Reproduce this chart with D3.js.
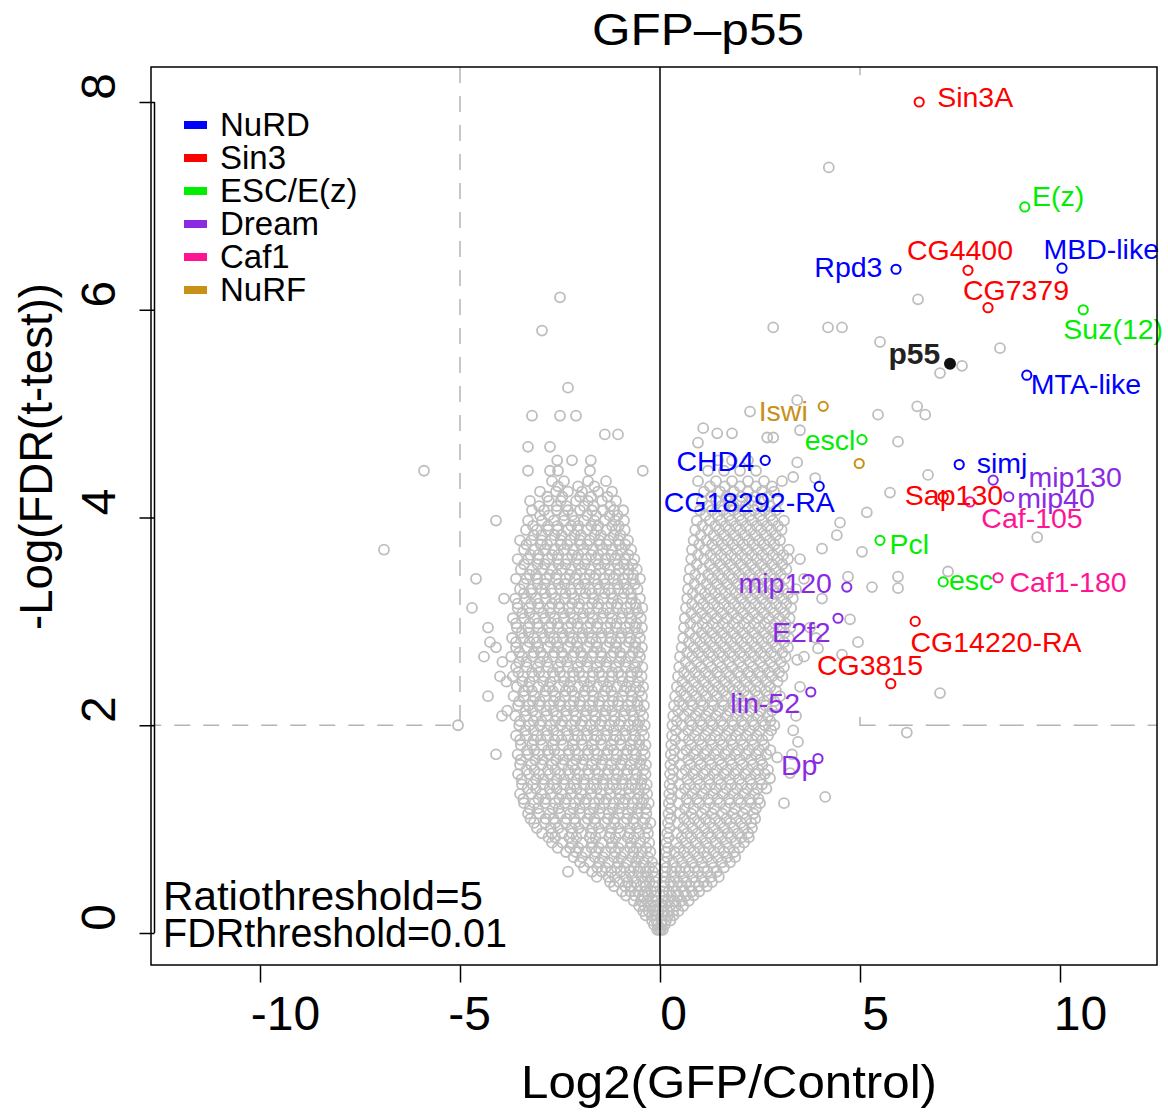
<!DOCTYPE html>
<html lang="en">
<head>
<meta charset="utf-8">
<title>GFP-p55 volcano plot</title>
<script src="https://d3js.org/d3.v7.min.js"></script>
<style>
  body { margin: 0; background: #fff; }
  text { font-family: "Liberation Sans", Arial, sans-serif; }
</style>
</head>
<body>
<script>
// ---- data ----
var xTicks = [-10, -5, 0, 5, 10];
var yTicks = [0, 2, 4, 6, 8];
var ratioThreshold = 5, fdrThreshold = 2;   // -log(0.01)

var groups = ["NuRD", "Sin3", "ESC/E(z)", "Dream", "Caf1", "NuRF"];

// labelled proteins
var geneNames = ["Sin3A", "E(z)", "MBD-like", "Rpd3", "CG4400", "CG7379", "Suz(12)", "MTA-like",
  "Iswi", "escl", "", "CHD4", "CG18292-RA", "simj", "mip130", "Sap130", "Caf-105", "mip40",
  "Pcl", "esc", "Caf1-180", "mip120", "E2f2", "CG14220-RA", "CG3815", "lin-52", "Dp"];
var geneX = [6.48, 9.12, 10.05, 5.9, 7.7, 8.2, 10.58, 9.17, 4.08, 5.05, 4.98, 2.63, 3.98, 7.48,
  8.33, 7.08, 7.75, 8.72, 5.5, 7.08, 8.45, 4.67, 4.45, 6.38, 5.77, 3.77, 3.95];
var geneY = [8.0, 6.99, 6.4, 6.39, 6.38, 6.02, 6.0, 5.37, 5.07, 4.75, 4.52, 4.55, 4.3, 4.51,
  4.36, 4.2, 4.15, 4.2, 3.78, 3.38, 3.42, 3.33, 3.03, 3.0, 2.4, 2.32, 1.68];
var geneGroup = ["Sin3", "ESC/E(z)", "NuRD", "NuRD", "Sin3", "Sin3", "ESC/E(z)", "NuRD",
  "NuRF", "ESC/E(z)", "NuRF", "NuRD", "NuRD", "NuRD", "Dream", "Sin3", "Caf1", "Dream",
  "ESC/E(z)", "ESC/E(z)", "Caf1", "Dream", "Dream", "Sin3", "Sin3", "Dream", "Dream"];
// label centres, data units
var labelX = [7.88, 9.95, 11.03, 4.71, 7.5, 8.9, 11.33, 10.65, 3.08, 4.25, 0, 1.38, 2.23, 8.55,
  10.38, 7.35, 9.3, 9.9, 6.23, 7.78, 10.2, 3.13, 3.53, 8.4, 5.25, 2.63, 3.48];
var labelY = [8.05, 7.1, 6.59, 6.41, 6.58, 6.19, 5.82, 5.29, 5.03, 4.75, 0, 4.55, 4.15, 4.53,
  4.39, 4.22, 4.0, 4.19, 3.75, 3.4, 3.38, 3.37, 2.9, 2.8, 2.58, 2.22, 1.62];

// bait
var baitName = "p55", baitX = 7.25, baitY = 5.48, baitLabelX = 6.36, baitLabelY = 5.58;

// background proteins, rows of [y, x values]
var cloudLeft = [
  [0.03, [-0.07, -0.02]],
  [0.12, [-0.2, -0.09]],
  [0.21, [-0.42, -0.28, -0.14, -0.05]],
  [0.31, [-0.66, -0.48, -0.32, -0.18, -0.07]],
  [0.40, [-0.95, -0.74, -0.55, -0.38, -0.22, -0.09]],
  [0.49, [-1.25, -1.02, -0.8, -0.6, -0.42, -0.26, -0.11]],
  [0.59, [-2.3, -1.7, -1.45, -1.22, -0.98, -0.75, -0.55, -0.36, -0.18]],
  [0.68, [-2.0, -1.76, -1.52, -1.28, -1.05, -0.82, -0.6, -0.4, -0.2]],
  [0.78, [-2.35, -2.1, -1.86, -1.6, -1.36, -1.12, -0.88, -0.66, -0.45, -0.24]],
  [0.87, [-2.7, -2.44, -2.2, -1.95, -1.7, -1.45, -1.2, -0.96, -0.72, -0.5, -0.27]],
  [0.96, [-2.95, -2.7, -2.45, -2.2, -1.96, -1.72, -1.48, -1.24, -1.0, -0.76, -0.52, -0.3]],
  [1.06, [-3.15, -2.88, -2.62, -2.36, -2.12, -1.88, -1.62, -1.38, -1.14, -0.9, -0.66, -0.42, -0.24]],
  [1.15, [-3.3, -3.02, -2.76, -2.5, -2.25, -2.0, -1.76, -1.52, -1.28, -1.04, -0.8, -0.56, -0.34]],
  [1.25, [-3.4, -3.14, -2.88, -2.62, -2.38, -2.13, -1.88, -1.64, -1.4, -1.16, -0.92, -0.68, -0.45, -0.28]],
  [1.34, [-3.5, -3.22, -2.96, -2.72, -2.46, -2.22, -1.97, -1.72, -1.48, -1.24, -1.0, -0.76, -0.52, -0.32]],
  [1.43, [-3.45, -3.18, -2.92, -2.66, -2.4, -2.15, -1.9, -1.66, -1.42, -1.18, -0.94, -0.7, -0.48, -0.33]],
  [1.53, [-3.55, -3.28, -3.02, -2.76, -2.5, -2.26, -2.02, -1.78, -1.54, -1.3, -1.06, -0.82, -0.58, -0.36]],
  [1.62, [-3.5, -3.22, -2.96, -2.7, -2.44, -2.18, -1.94, -1.7, -1.46, -1.22, -0.98, -0.74, -0.5, -0.35]],
  [1.72, [-4.1, -3.56, -3.3, -3.04, -2.78, -2.52, -2.28, -2.04, -1.8, -1.56, -1.32, -1.08, -0.84, -0.6, -0.38]],
  [1.81, [-3.48, -3.2, -2.94, -2.68, -2.42, -2.18, -1.94, -1.7, -1.46, -1.22, -0.98, -0.74, -0.52, -0.36]],
  [1.90, [-3.6, -3.34, -3.08, -2.82, -2.56, -2.3, -2.06, -1.82, -1.58, -1.34, -1.1, -0.86, -0.62, -0.4]],
  [2.00, [-5.05, -3.52, -3.26, -3.0, -2.74, -2.48, -2.22, -1.98, -1.74, -1.5, -1.26, -1.02, -0.78, -0.56, -0.38]],
  [2.09, [-3.95, -3.62, -3.36, -3.1, -2.84, -2.58, -2.34, -2.1, -1.86, -1.62, -1.38, -1.14, -0.9, -0.66, -0.42]],
  [2.19, [-3.55, -3.28, -3.02, -2.76, -2.5, -2.25, -2.0, -1.76, -1.52, -1.28, -1.04, -0.8, -0.56, -0.4]],
  [2.28, [-4.3, -3.66, -3.4, -3.14, -2.88, -2.62, -2.38, -2.14, -1.9, -1.66, -1.42, -1.18, -0.94, -0.7, -0.45]],
  [2.37, [-3.58, -3.3, -3.04, -2.78, -2.52, -2.28, -2.04, -1.8, -1.56, -1.32, -1.08, -0.84, -0.6, -0.42]],
  [2.47, [-4.0, -3.68, -3.42, -3.16, -2.9, -2.64, -2.4, -2.16, -1.92, -1.68, -1.44, -1.2, -0.96, -0.72, -0.46]],
  [2.56, [-3.6, -3.33, -3.06, -2.8, -2.54, -2.3, -2.06, -1.82, -1.58, -1.34, -1.1, -0.86, -0.62, -0.44]],
  [2.66, [-4.4, -3.72, -3.45, -3.18, -2.92, -2.66, -2.42, -2.18, -1.94, -1.7, -1.46, -1.22, -0.98, -0.74, -0.5]],
  [2.75, [-4.1, -3.6, -3.32, -3.05, -2.8, -2.55, -2.3, -2.06, -1.82, -1.58, -1.34, -1.1, -0.86, -0.62, -0.45]],
  [2.84, [-3.7, -3.42, -3.16, -2.9, -2.66, -2.42, -2.18, -1.94, -1.7, -1.46, -1.22, -0.98, -0.74, -0.5]],
  [2.94, [-4.3, -3.58, -3.3, -3.04, -2.78, -2.54, -2.3, -2.06, -1.82, -1.58, -1.34, -1.1, -0.86, -0.62, -0.45]],
  [3.03, [-3.68, -3.4, -3.14, -2.88, -2.64, -2.4, -2.16, -1.92, -1.68, -1.44, -1.2, -0.96, -0.72, -0.48]],
  [3.13, [-4.7, -3.56, -3.28, -3.02, -2.76, -2.52, -2.28, -2.04, -1.8, -1.56, -1.32, -1.08, -0.84, -0.6, -0.44]],
  [3.22, [-3.9, -3.62, -3.36, -3.1, -2.86, -2.62, -2.38, -2.14, -1.9, -1.66, -1.42, -1.18, -0.94, -0.7, -0.5]],
  [3.31, [-3.5, -3.22, -2.96, -2.72, -2.48, -2.24, -2.0, -1.76, -1.52, -1.28, -1.04, -0.8, -0.56]],
  [3.41, [-4.6, -3.6, -3.34, -3.08, -2.84, -2.6, -2.36, -2.12, -1.88, -1.64, -1.4, -1.16, -0.92, -0.68, -0.5]],
  [3.50, [-3.48, -3.2, -2.94, -2.7, -2.46, -2.22, -1.98, -1.74, -1.5, -1.26, -1.02, -0.78, -0.58]],
  [3.60, [-3.56, -3.3, -3.04, -2.8, -2.56, -2.32, -2.08, -1.84, -1.6, -1.36, -1.12, -0.88, -0.64]],
  [3.69, [-6.9, -3.4, -3.14, -2.88, -2.64, -2.4, -2.16, -1.92, -1.68, -1.44, -1.2, -0.96, -0.72]],
  [3.78, [-3.5, -3.22, -2.96, -2.72, -2.48, -2.24, -2.0, -1.76, -1.52, -1.28, -1.04, -0.8]],
  [3.88, [-3.35, -3.08, -2.8, -2.56, -2.3, -2.06, -1.82, -1.58, -1.34, -1.1, -0.88]],
  [3.97, [-4.1, -3.3, -2.95, -2.66, -2.4, -2.14, -1.9, -1.64, -1.38, -1.12, -0.9]],
  [4.07, [-3.2, -2.9, -2.58, -2.3, -2.0, -1.7, -1.42, -1.15, -0.92]],
  [4.16, [-3.25, -2.78, -2.48, -2.1, -1.8, -1.45, -1.1]],
  [4.25, [-3.0, -2.6, -2.3, -1.95, -1.55, -1.2]],
  [4.35, [-2.7, -2.4, -1.8, -1.35]],
  [4.45, [-5.9, -3.3, -2.75, -2.55, -1.75, -0.43]],
  [4.55, [-2.57, -2.2, -1.73]],
  [4.68, [-3.3, -2.75]],
  [4.8, [-1.38, -1.05]],
  [4.98, [-3.2, -2.5, -2.1]],
  [5.25, [-2.3]],
  [5.8, [-2.95]],
  [6.12, [-2.5]]
];

// second, offset set of rows filling the dense part of the left arm
var cloudLeftInner = [
  [0.08, [-0.15, -0.05]],
  [0.17, [-0.36, -0.21, -0.1]],
  [0.26, [-0.52, -0.39, -0.22, -0.12]],
  [0.36, [-0.85, -0.63, -0.43, -0.29, -0.13]],
  [0.45, [-1.15, -0.87, -0.72, -0.48, -0.35, -0.16]],
  [0.54, [-1.58, -1.29, -1.13, -0.86, -0.69, -0.45, -0.31, -0.14]],
  [0.63, [-1.9, -1.57, -1.36, -1.08, -0.9, -0.65, -0.49, -0.27, -0.12]],
  [0.73, [-2.16, -1.95, -1.63, -1.43, -1.15, -0.97, -0.7, -0.54, -0.3]],
  [0.82, [-2.56, -2.25, -2.04, -1.71, -1.53, -1.22, -1.04, -0.75, -0.59, -0.34]],
  [0.92, [-2.79, -2.62, -2.27, -2.09, -1.76, -1.61, -1.27, -1.11, -0.81, -0.65, -0.38]],
  [1.01, [-3.08, -2.73, -2.54, -2.21, -2.03, -1.7, -1.53, -1.22, -1.04, -0.75, -0.58, -0.33]],
  [1.10, [-3.24, -2.86, -2.66, -2.34, -2.14, -1.81, -1.64, -1.31, -1.15, -0.83, -0.67, -0.38]],
  [1.20, [-3.26, -3.05, -2.68, -2.53, -2.17, -2.0, -1.66, -1.5, -1.18, -1.02, -0.7, -0.55, -0.35]],
  [1.29, [-3.42, -3.04, -2.86, -2.52, -2.34, -2.02, -1.84, -1.52, -1.34, -1.02, -0.87, -0.57, -0.41]],
  [1.39, [-3.31, -3.1, -2.76, -2.58, -2.24, -2.08, -1.74, -1.58, -1.26, -1.09, -0.78, -0.62, -0.39]],
  [1.48, [-3.46, -3.1, -2.92, -2.58, -2.4, -2.08, -1.9, -1.58, -1.42, -1.1, -0.94, -0.62, -0.45]],
  [1.57, [-3.34, -3.14, -2.8, -2.62, -2.3, -2.12, -1.8, -1.62, -1.3, -1.14, -0.82, -0.66, -0.41]],
  [1.67, [-3.48, -3.12, -2.94, -2.6, -2.42, -2.1, -1.92, -1.6, -1.44, -1.1, -0.94, -0.64, -0.47]],
  [1.76, [-3.32, -3.14, -2.8, -2.64, -2.28, -2.12, -1.8, -1.64, -1.3, -1.16, -0.82, -0.68, -0.43]],
  [1.86, [-3.5, -3.16, -2.98, -2.64, -2.46, -2.14, -1.96, -1.64, -1.48, -1.16, -1.0, -0.68, -0.51]],
  [1.95, [-3.36, -3.16, -2.82, -2.66, -2.32, -2.14, -1.82, -1.66, -1.32, -1.16, -0.86, -0.7, -0.45]],
  [2.04, [-3.5, -3.16, -2.96, -2.62, -2.44, -2.12, -1.94, -1.62, -1.46, -1.14, -0.98, -0.66, -0.51]],
  [2.14, [-3.82, -3.36, -3.18, -2.84, -2.66, -2.34, -2.16, -1.84, -1.68, -1.36, -1.2, -0.88, -0.72, -0.49]],
  [2.23, [-3.52, -3.18, -3.0, -2.66, -2.5, -2.16, -2.0, -1.68, -1.52, -1.18, -1.04, -0.72, -0.56]],
  [2.33, [-3.4, -3.2, -2.86, -2.68, -2.36, -2.2, -1.88, -1.7, -1.38, -1.22, -0.9, -0.74, -0.51]],
  [2.42, [-3.84, -3.44, -3.26, -2.92, -2.74, -2.4, -2.24, -1.9, -1.74, -1.42, -1.26, -0.94, -0.78, -0.54]],
  [2.51, [-3.54, -3.2, -3.02, -2.68, -2.5, -2.18, -2.02, -1.68, -1.52, -1.2, -1.04, -0.72, -0.57]],
  [2.61, [-3.94, -3.52, -3.34, -3.0, -2.82, -2.48, -2.32, -1.98, -1.82, -1.5, -1.34, -1.02, -0.86, -0.57]],
  [2.70, [-3.52, -3.16, -2.98, -2.64, -2.46, -2.14, -1.98, -1.66, -1.48, -1.16, -1.0, -0.68, -0.54]],
  [2.80, [-4.25, -3.6, -3.26, -3.08, -2.74, -2.58, -2.24, -2.08, -1.76, -1.6, -1.26, -1.1, -0.78, -0.61]],
  [2.89, [-3.46, -3.28, -2.94, -2.76, -2.44, -2.26, -1.94, -1.78, -1.46, -1.28, -0.96, -0.8, -0.55]],
  [2.98, [-3.6, -3.26, -3.06, -2.72, -2.56, -2.22, -2.06, -1.74, -1.56, -1.24, -1.08, -0.76, -0.59]],
  [3.08, [-3.44, -3.26, -2.92, -2.74, -2.42, -2.24, -1.92, -1.76, -1.42, -1.26, -0.94, -0.78, -0.55]],
  [3.17, [-3.56, -3.22, -3.04, -2.7, -2.52, -2.2, -2.02, -1.7, -1.54, -1.22, -1.06, -0.74, -0.61]],
  [3.27, [-3.4, -3.22, -2.88, -2.7, -2.36, -2.2, -1.86, -1.7, -1.38, -1.22, -0.9, -0.73]],
  [3.36, [-3.4, -3.06, -2.88, -2.54, -2.38, -2.04, -1.88, -1.56, -1.38, -1.06, -0.9, -0.63]],
  [3.45, [-3.26, -3.1, -2.76, -2.58, -2.26, -2.08, -1.76, -1.6, -1.26, -1.1, -0.8, -0.67]],
  [3.55, [-3.4, -3.06, -2.88, -2.54, -2.36, -2.04, -1.88, -1.54, -1.38, -1.06, -0.9, -0.69]],
  [3.64, [-3.24, -3.04, -2.7, -2.54, -2.2, -2.04, -1.72, -1.54, -1.22, -1.06, -0.79]],
  [3.74, [-3.34, -2.98, -2.82, -2.48, -2.32, -1.98, -1.82, -1.5, -1.34, -1.02, -0.87]],
  [3.83, [-3.16, -2.96, -2.64, -2.46, -2.14, -1.98, -1.64, -1.48, -1.16, -0.99]],
  [3.92, [-3.18, -2.8, -2.56, -2.22, -2.04, -1.72, -1.54, -1.2, -1.03]],
  [4.02, [-3.0, -2.78, -2.4, -2.2, -1.82, -1.6, -1.26, -1.06]],
  [4.11, [-3.02, -2.58, -2.34, -1.9, -1.66, -1.24]],
  [4.20, [-2.82, -2.44, -2.0, -1.72, -1.31]],
  [4.30, [-2.55, -2.05, -1.64]]
];

var cloudRight = [
  [0.03, [0.02, 0.07]],
  [0.12, [0.05, 0.15, 0.26]],
  [0.21, [0.06, 0.18, 0.32, 0.46]],
  [0.31, [0.07, 0.2, 0.36, 0.54, 0.72]],
  [0.40, [0.08, 0.22, 0.4, 0.6, 0.8, 0.98]],
  [0.49, [0.1, 0.26, 0.45, 0.66, 0.88, 1.1, 1.3]],
  [0.59, [0.12, 0.3, 0.5, 0.72, 0.95, 1.18, 1.42]],
  [0.68, [0.13, 0.32, 0.55, 0.8, 1.05, 1.3, 1.55, 1.75]],
  [0.78, [0.15, 0.36, 0.6, 0.85, 1.1, 1.35, 1.6, 1.85]],
  [0.87, [0.16, 0.4, 0.65, 0.9, 1.15, 1.4, 1.65, 1.9, 2.1]],
  [0.96, [0.18, 0.42, 0.68, 0.94, 1.2, 1.45, 1.7, 1.95, 2.2]],
  [1.06, [0.2, 0.45, 0.72, 0.98, 1.24, 1.5, 1.76, 2.02, 2.28]],
  [1.15, [0.21, 0.5, 0.78, 1.04, 1.3, 1.56, 1.82, 2.08, 2.34]],
  [1.25, [0.22, 0.46, 0.72, 0.98, 1.24, 1.5, 1.76, 2.02, 2.28, 2.5]],
  [1.34, [0.23, 0.52, 0.8, 1.06, 1.32, 1.58, 1.84, 2.1, 2.36]],
  [1.43, [0.24, 0.48, 0.74, 1.0, 1.26, 1.52, 1.78, 2.04, 2.3, 2.55]],
  [1.53, [0.25, 0.55, 0.82, 1.08, 1.34, 1.6, 1.86, 2.12, 2.38, 2.62]],
  [1.62, [0.26, 0.5, 0.76, 1.02, 1.28, 1.54, 1.8, 2.06, 2.32, 2.56]],
  [1.72, [0.27, 0.56, 0.84, 1.1, 1.36, 1.62, 1.88, 2.14, 2.4, 2.66]],
  [1.81, [0.28, 0.52, 0.78, 1.04, 1.3, 1.56, 1.82, 2.08, 2.34, 2.6]],
  [1.90, [0.3, 0.58, 0.86, 1.12, 1.38, 1.64, 1.9, 2.16, 2.42, 2.7]],
  [2.00, [0.31, 0.55, 0.8, 1.06, 1.32, 1.58, 1.84, 2.1, 2.36, 2.62, 2.86]],
  [2.09, [0.33, 0.6, 0.88, 1.14, 1.4, 1.66, 1.92, 2.18, 2.44, 2.7]],
  [2.19, [0.35, 0.58, 0.82, 1.08, 1.34, 1.6, 1.86, 2.12, 2.38, 2.64, 2.9]],
  [2.28, [0.38, 0.64, 0.9, 1.16, 1.42, 1.68, 1.94, 2.2, 2.46, 2.72, 3.0]],
  [2.37, [0.42, 0.68, 0.94, 1.2, 1.46, 1.72, 1.98, 2.24, 2.5, 2.76]],
  [2.47, [0.45, 0.72, 0.98, 1.24, 1.5, 1.76, 2.02, 2.28, 2.54, 2.8, 3.06]],
  [2.56, [0.48, 0.76, 1.02, 1.28, 1.54, 1.8, 2.06, 2.32, 2.58, 2.84, 3.1]],
  [2.66, [0.5, 0.8, 1.06, 1.32, 1.58, 1.84, 2.1, 2.36, 2.62, 2.88, 3.14]],
  [2.75, [0.54, 0.84, 1.1, 1.36, 1.62, 1.88, 2.14, 2.4, 2.66, 2.92, 3.2]],
  [2.84, [0.58, 0.88, 1.14, 1.4, 1.66, 1.92, 2.18, 2.44, 2.7, 2.96, 3.22]],
  [2.94, [0.6, 0.92, 1.18, 1.44, 1.7, 1.96, 2.22, 2.48, 2.74, 3.0, 3.26]],
  [3.03, [0.62, 0.9, 1.16, 1.42, 1.68, 1.94, 2.2, 2.46, 2.72, 2.98, 3.24]],
  [3.13, [0.65, 0.94, 1.2, 1.46, 1.72, 1.98, 2.24, 2.5, 2.76, 3.02, 3.28]],
  [3.22, [0.68, 0.98, 1.24, 1.5, 1.76, 2.02, 2.28, 2.54, 2.8, 3.06, 3.32]],
  [3.31, [0.7, 1.0, 1.26, 1.52, 1.78, 2.04, 2.3, 2.56, 2.82, 3.08, 3.4]],
  [3.41, [0.72, 1.02, 1.3, 1.56, 1.82, 2.08, 2.34, 2.6, 2.86, 3.12]],
  [3.50, [0.75, 1.06, 1.34, 1.6, 1.86, 2.12, 2.38, 2.64, 2.9, 3.16]],
  [3.60, [0.78, 1.1, 1.38, 1.64, 1.9, 2.16, 2.42, 2.68, 2.94, 3.2]],
  [3.69, [0.8, 1.12, 1.4, 1.66, 1.92, 2.18, 2.44, 2.7, 2.96, 3.22]],
  [3.78, [0.84, 1.16, 1.44, 1.7, 1.96, 2.22, 2.48, 2.74, 3.0]],
  [3.88, [0.88, 1.2, 1.48, 1.74, 2.0, 2.26, 2.52, 2.78, 3.04]],
  [3.97, [0.92, 1.24, 1.52, 1.78, 2.04, 2.3, 2.56, 2.82, 3.1]],
  [4.07, [1.0, 1.3, 1.58, 1.84, 2.1, 2.36, 2.62, 2.9]],
  [4.16, [1.05, 1.4, 1.7, 2.0, 2.3, 2.6, 2.95]],
  [4.25, [1.1, 1.5, 1.85, 2.2, 2.55, 2.85]],
  [4.35, [0.95, 1.4, 1.8, 2.2, 2.6, 3.05]],
  [4.45, [1.2, 1.6, 2.0, 2.4]],
  [4.55, [1.45, 1.8, 2.2]]
];

// second, offset set of rows filling the dense part of the right arm
var cloudRightInner = [
  [0.08, [0.04, 0.12]],
  [0.17, [0.06, 0.2, 0.34]],
  [0.26, [0.07, 0.24, 0.4, 0.58]],
  [0.36, [0.1, 0.28, 0.46, 0.66, 0.84]],
  [0.45, [0.12, 0.32, 0.55, 0.74, 0.97, 1.17]],
  [0.54, [0.14, 0.38, 0.58, 0.83, 1.04, 1.28, 1.47]],
  [0.63, [0.16, 0.4, 0.63, 0.86, 1.1, 1.34, 1.6]],
  [0.73, [0.18, 0.46, 0.7, 0.96, 1.18, 1.44, 1.68, 1.88]],
  [0.82, [0.2, 0.48, 0.73, 0.99, 1.22, 1.49, 1.72, 1.98]],
  [0.92, [0.22, 0.54, 0.78, 1.04, 1.28, 1.54, 1.78, 2.04, 2.22]],
  [1.01, [0.24, 0.58, 0.82, 1.1, 1.34, 1.6, 1.84, 2.1, 2.3]],
  [1.10, [0.26, 0.6, 0.86, 1.14, 1.38, 1.66, 1.9, 2.16, 2.38]],
  [1.20, [0.27, 0.62, 0.84, 1.12, 1.36, 1.64, 1.88, 2.14, 2.4]],
  [1.29, [0.28, 0.66, 0.92, 1.2, 1.44, 1.72, 1.96, 2.24, 2.46]],
  [1.39, [0.3, 0.62, 0.88, 1.14, 1.4, 1.66, 1.92, 2.18, 2.44, 2.66]],
  [1.48, [0.31, 0.68, 0.94, 1.22, 1.46, 1.74, 1.98, 2.26, 2.5]],
  [1.57, [0.33, 0.64, 0.9, 1.16, 1.42, 1.68, 1.94, 2.2, 2.46, 2.7]],
  [1.67, [0.34, 0.7, 0.96, 1.24, 1.48, 1.76, 2.0, 2.28, 2.52]],
  [1.76, [0.36, 0.66, 0.92, 1.18, 1.44, 1.7, 1.96, 2.22, 2.48, 2.76]],
  [1.86, [0.38, 0.72, 0.98, 1.26, 1.5, 1.78, 2.02, 2.3, 2.56]],
  [1.95, [0.4, 0.7, 0.94, 1.2, 1.46, 1.72, 1.98, 2.24, 2.5, 2.78]],
  [2.04, [0.42, 0.74, 1.0, 1.26, 1.52, 1.8, 2.04, 2.3, 2.56, 2.76]],
  [2.14, [0.45, 0.72, 0.98, 1.22, 1.48, 1.74, 2.0, 2.26, 2.52, 2.8]],
  [2.23, [0.48, 0.76, 1.02, 1.3, 1.56, 1.82, 2.06, 2.34, 2.6, 2.86]],
  [2.33, [0.52, 0.8, 1.06, 1.32, 1.58, 1.84, 2.1, 2.38, 2.64, 2.9]],
  [2.42, [0.56, 0.84, 1.1, 1.36, 1.62, 1.88, 2.14, 2.4, 2.66, 2.94]],
  [2.51, [0.6, 0.88, 1.14, 1.42, 1.66, 1.94, 2.2, 2.46, 2.72, 2.98]],
  [2.61, [0.64, 0.92, 1.2, 1.46, 1.72, 1.98, 2.24, 2.5, 2.76, 3.02]],
  [2.70, [0.68, 0.96, 1.22, 1.48, 1.74, 2.0, 2.26, 2.52, 2.78, 3.06]],
  [2.80, [0.72, 1.0, 1.26, 1.52, 1.78, 2.04, 2.3, 2.56, 2.82, 3.1]],
  [2.89, [0.74, 1.04, 1.3, 1.56, 1.82, 2.08, 2.34, 2.6, 2.86, 3.12]],
  [2.98, [0.76, 1.06, 1.32, 1.58, 1.84, 2.1, 2.36, 2.62, 2.88, 3.14]],
  [3.08, [0.78, 1.04, 1.3, 1.56, 1.82, 2.08, 2.34, 2.6, 2.86, 3.12]],
  [3.17, [0.8, 1.08, 1.34, 1.6, 1.86, 2.12, 2.38, 2.64, 2.9, 3.16]],
  [3.27, [0.82, 1.12, 1.38, 1.64, 1.9, 2.16, 2.42, 2.68, 2.94, 3.2]],
  [3.36, [0.86, 1.16, 1.42, 1.68, 1.94, 2.2, 2.46, 2.72, 2.98]],
  [3.45, [0.88, 1.2, 1.46, 1.72, 1.98, 2.24, 2.5, 2.76, 3.02]],
  [3.55, [0.92, 1.24, 1.5, 1.76, 2.02, 2.28, 2.54, 2.8, 3.06]],
  [3.64, [0.95, 1.26, 1.52, 1.78, 2.04, 2.3, 2.56, 2.82, 3.08]],
  [3.74, [0.98, 1.3, 1.56, 1.82, 2.08, 2.34, 2.6, 2.86]],
  [3.83, [1.02, 1.34, 1.6, 1.86, 2.12, 2.38, 2.64, 2.9]],
  [3.92, [1.06, 1.38, 1.64, 1.9, 2.16, 2.42, 2.68, 2.95]],
  [4.02, [1.14, 1.44, 1.72, 1.98, 2.24, 2.5, 2.76]],
  [4.11, [1.2, 1.54, 1.84, 2.14, 2.44, 2.76]],
  [4.20, [1.28, 1.66, 2.04, 2.38, 2.7]],
  [4.30, [1.25, 1.62, 2.0, 2.4, 2.8]]
];

// scattered background points [x, y]
var cloudSparse = [
  [3.1, 1.25], [3.3, 1.72], [3.4, 2.09], [3.5, 2.37], [3.6, 2.66], [3.9, 2.84], [3.75, 2.94],
  [4.75, 3.02], [4.95, 2.8], [3.95, 2.74], [4.55, 2.68], [3.43, 2.63], [3.33, 1.95], [3.45, 1.84],
  [2.93, 1.69], [3.25, 1.54], [2.75, 1.49], [4.13, 1.31], [6.17, 1.93], [7.0, 2.31],
  [4.05, 3.22], [3.6, 3.41], [4.7, 3.43], [5.3, 3.33], [5.95, 3.43], [5.95, 3.32], [7.2, 3.48],
  [3.5, 3.6], [4.05, 3.7], [5.05, 3.67], [4.42, 3.83], [9.43, 3.81], [4.5, 3.95], [5.17, 4.05],
  [5.75, 4.24], [3.33, 4.39], [3.88, 4.38], [6.7, 4.41], [3.43, 4.53], [2.68, 4.77], [2.83, 4.77],
  [5.95, 4.73], [0.95, 4.72], [1.08, 4.86], [1.43, 4.81], [1.8, 4.81], [3.5, 4.84], [2.25, 5.02],
  [3.43, 5.13], [5.45, 4.99], [6.43, 5.07], [6.63, 4.99], [7.0, 5.39], [7.55, 5.46], [8.5, 5.63],
  [5.5, 5.69], [2.83, 5.83], [4.2, 5.83], [4.55, 5.83], [6.45, 6.1], [4.22, 7.37]
];

// ---- layout ----
var outerWidth = 1168, outerHeight = 1113;
var plot = { left: 151, right: 1157, top: 67, bottom: 965 };

var xScale = d3.scaleLinear().domain([-12.725, 12.425]).range([plot.left, plot.right]);
var yScale = d3.scaleLinear().domain([-0.308, 8.337]).range([plot.bottom, plot.top]);
var colorScale = d3.scaleOrdinal()
  .domain(groups)
  .range(["#0000ff", "#ff0000", "#00ee00", "#8a2be2", "#ff1493", "#c89018"]);

var svg = d3.select("body").append("svg")
  .attr("width", outerWidth)
  .attr("height", outerHeight);

svg.append("rect")
  .attr("width", outerWidth).attr("height", outerHeight)
  .attr("fill", "#fff");

// background points
var cloud = [];
cloudLeft.concat(cloudLeftInner, cloudRight, cloudRightInner).forEach(function(row) {
  row[1].forEach(function(v) { cloud.push([v, row[0]]); });
});
cloud = cloud.concat(cloudSparse);

svg.append("g").selectAll("circle")
  .data(cloud)
  .enter().append("circle")
  .attr("cx", d => xScale(d[0]))
  .attr("cy", d => yScale(d[1]))
  .attr("r", 5)
  .attr("fill", "none")
  .attr("stroke", "#bebebe")
  .attr("stroke-width", 1.8);

// threshold lines
var line = d3.line().x(d => xScale(d[0])).y(d => yScale(d[1]));
var yTop = yScale.domain()[1], xLeft = xScale.domain()[0], xRight = xScale.domain()[1];
svg.append("path")
  .attr("d", line([[-ratioThreshold, yTop], [-ratioThreshold, fdrThreshold], [xLeft, fdrThreshold]]))
  .attr("fill", "none").attr("stroke", "#b4b4b4").attr("stroke-width", 1.5)
  .attr("stroke-dasharray", "16,13");
svg.append("path")
  .attr("d", line([[ratioThreshold, fdrThreshold + 0.08], [ratioThreshold, fdrThreshold], [xRight, fdrThreshold]]))
  .attr("fill", "none").attr("stroke", "#b4b4b4").attr("stroke-width", 1.5)
  .attr("stroke-dasharray", "24,13");
svg.append("path")
  .attr("d", line([[ratioThreshold, yTop], [ratioThreshold, yTop - 0.08]]))
  .attr("fill", "none").attr("stroke", "#b4b4b4").attr("stroke-width", 1.5);

// zero line
svg.append("line")
  .attr("x1", xScale(0)).attr("x2", xScale(0))
  .attr("y1", plot.top).attr("y2", plot.bottom)
  .attr("stroke", "#000").attr("stroke-width", 1.5);

// labelled proteins
var genes = geneNames.map(function(n, i) {
  return { name: n, x: geneX[i], y: geneY[i], group: geneGroup[i], lx: labelX[i], ly: labelY[i] };
});

svg.append("g").selectAll("circle")
  .data(genes)
  .enter().append("circle")
  .attr("cx", d => xScale(d.x))
  .attr("cy", d => yScale(d.y))
  .attr("r", 4.6)
  .attr("fill", "none")
  .attr("stroke", d => colorScale(d.group))
  .attr("stroke-width", 2);

svg.append("g").selectAll("text")
  .data(genes.filter(d => d.name !== ""))
  .enter().append("text")
  .attr("x", d => xScale(d.lx))
  .attr("y", d => yScale(d.ly))
  .attr("dy", "0.36em")
  .attr("text-anchor", "middle")
  .attr("font-size", 28.5)
  .attr("fill", d => colorScale(d.group))
  .text(d => d.name);

// bait
svg.append("circle")
  .attr("cx", xScale(baitX)).attr("cy", yScale(baitY))
  .attr("r", 6).attr("fill", "#111");
svg.append("text")
  .attr("x", xScale(baitLabelX)).attr("y", yScale(baitLabelY))
  .attr("dy", "0.36em")
  .attr("text-anchor", "middle")
  .attr("font-size", 30).attr("font-weight", "bold")
  .attr("fill", "#222")
  .text(baitName);

// box
svg.append("rect")
  .attr("x", plot.left).attr("y", plot.top)
  .attr("width", plot.right - plot.left).attr("height", plot.bottom - plot.top)
  .attr("fill", "none").attr("stroke", "#000").attr("stroke-width", 1.5);

// axes
var labelShift = { "-10": 25, "-5": 9, "0": 13, "5": 15, "10": 20 };
var xAxis = svg.append("g")
  .attr("transform", `translate(0,${plot.bottom + 0.5})`)
  .call(d3.axisBottom(xScale).tickValues(xTicks).tickSize(17).tickSizeOuter(0).tickFormat(d3.format("d")));
xAxis.select(".domain").remove();
xAxis.selectAll("line").attr("stroke-width", 1.5);
xAxis.selectAll("text")
  .attr("y", 64).attr("dy", null)
  .attr("dx", d => labelShift[String(d)])
  .attr("font-size", 48)
  .attr("font-family", "Liberation Sans, Arial, sans-serif")
  .text(d => String(d).replace("\u2212", "-"));

var yAxis = svg.append("g")
  .attr("transform", "translate(154.5,0)")
  .call(d3.axisLeft(yScale).tickValues(yTicks).tickSize(15).tickSizeOuter(0));
yAxis.select(".domain")
  .attr("d", `M0,${yScale(0)}V${yScale(8)}`)
  .attr("stroke-width", 1.5);
yAxis.selectAll("line").attr("stroke-width", 1.5);
yAxis.selectAll("text")
  .attr("x", null).attr("dy", null)
  .attr("text-anchor", "middle")
  .attr("transform", "translate(-39.5,-16) rotate(-90)")
  .attr("font-size", 48)
  .attr("font-family", "Liberation Sans, Arial, sans-serif");

// titles
svg.append("text")
  .attr("x", 592).attr("y", 45)
  .attr("font-size", 44)
  .attr("textLength", 212).attr("lengthAdjust", "spacingAndGlyphs")
  .text("GFP\u2013p55");

svg.append("text")
  .attr("x", 521).attr("y", 1098)
  .attr("font-size", 47)
  .attr("textLength", 416).attr("lengthAdjust", "spacingAndGlyphs")
  .text("Log2(GFP/Control)");

svg.append("text")
  .attr("transform", "translate(52,630) rotate(-90)")
  .attr("font-size", 47)
  .attr("textLength", 347).attr("lengthAdjust", "spacingAndGlyphs")
  .text("-Log(FDR(t-test))");

// thresholds note
svg.append("text")
  .attr("x", 163).attr("y", 910)
  .attr("font-size", 40)
  .attr("textLength", 320).attr("lengthAdjust", "spacingAndGlyphs")
  .text("Ratiothreshold=" + ratioThreshold);
svg.append("text")
  .attr("x", 163).attr("y", 947)
  .attr("font-size", 40)
  .attr("textLength", 344).attr("lengthAdjust", "spacingAndGlyphs")
  .text("FDRthreshold=0.01");

// legend
var legend = svg.append("g").selectAll("g")
  .data(groups)
  .enter().append("g")
  .attr("transform", (d, i) => `translate(184,${125 + i * 33})`);
legend.append("line")
  .attr("x1", 0).attr("x2", 23)
  .attr("stroke", d => colorScale(d))
  .attr("stroke-width", 8);
legend.append("text")
  .attr("x", 36).attr("y", 11)
  .attr("font-size", 33)
  .text(d => d);
</script>
</body>
</html>
